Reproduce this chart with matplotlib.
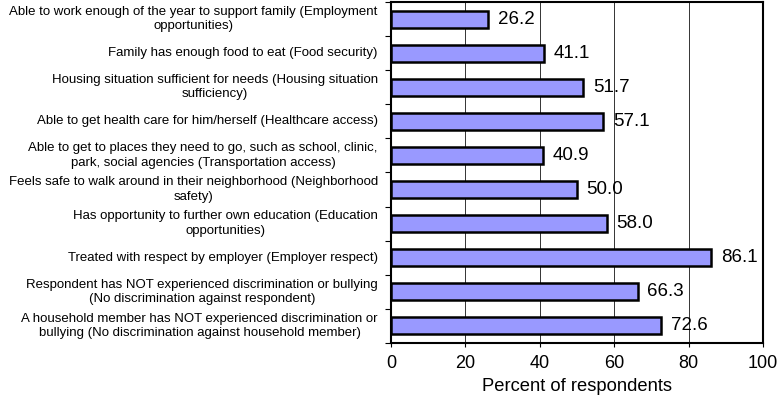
import numpy as np
import matplotlib.pyplot as plt

labels = [
    "Able to work enough of the year to support family (Employment\nopportunities)",
    "Family has enough food to eat (Food security)",
    "Housing situation sufficient for needs (Housing situation\nsufficiency)",
    "Able to get health care for him/herself (Healthcare access)",
    "Able to get to places they need to go, such as school, clinic,\npark, social agencies (Transportation access)",
    "Feels safe to walk around in their neighborhood (Neighborhood\nsafety)",
    "Has opportunity to further own education (Education\nopportunities)",
    "Treated with respect by employer (Employer respect)",
    "Respondent has NOT experienced discrimination or bullying\n(No discrimination against respondent)",
    "A household member has NOT experienced discrimination or\nbullying (No discrimination against household member)",
]
values = [26.2, 41.1, 51.7, 57.1, 40.9, 50.0, 58.0, 86.1, 66.3, 72.6]

plt.rcParams['font.family'] = ['Liberation Sans', 'DejaVu Sans']

fig = plt.figure(figsize=(7.77, 4.01), dpi=100)
ax = fig.add_axes([0.503, 0.145, 0.479, 0.85])

y = np.arange(len(values))
ax.barh(y, values, height=0.5, color='#9999ff', edgecolor='black', linewidth=1.8, zorder=3)
for yi, v in zip(y, values):
    ax.text(v + 2.6, yi, "%.1f" % v, va='center', ha='left', fontsize=13.5, zorder=4)

ax.set_ylim(len(values) - 0.5, -0.5)
ax.set_xlim(0, 100)
ax.set_xticks([0, 20, 40, 60, 80, 100])
ax.tick_params(axis='x', labelsize=13, length=3, direction='out', pad=6)
ax.xaxis.grid(True, color='#333333', linewidth=0.7, zorder=0)

# category labels drawn as text, ticks at category boundaries
ax.set_yticks(np.arange(len(values) + 1) - 0.5)
ax.set_yticklabels([])
ax.tick_params(axis='y', length=4, direction='out')
for yi, lab in zip(y, labels):
    ax.text(-3.5, yi, lab, ha='right', va='center', multialignment='center',
            fontsize=9.5, linespacing=1.25)

for s in ax.spines.values():
    s.set_linewidth(1.5)

ax.set_xlabel("Percent of respondents", fontsize=13.2, labelpad=4)

fig.savefig("out.png", dpi=100)
